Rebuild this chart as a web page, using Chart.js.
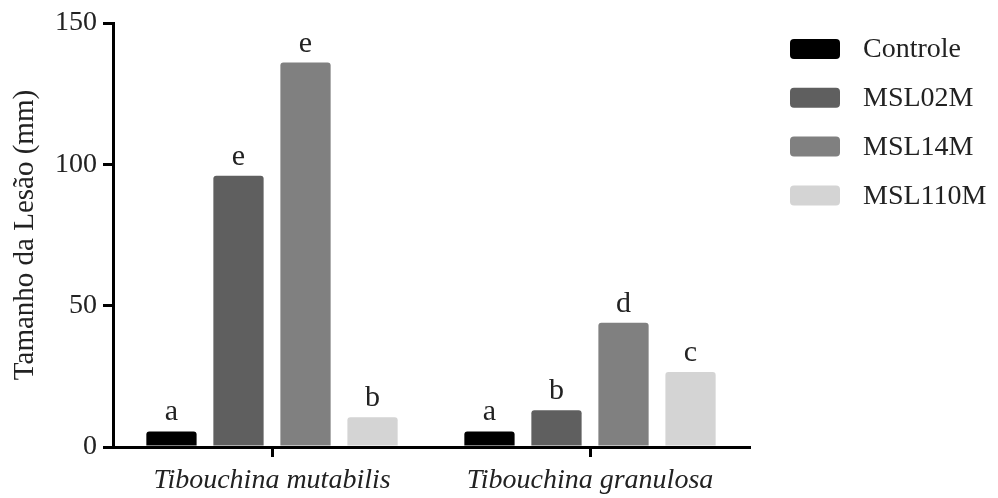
<!DOCTYPE html>
<html>
<head>
<meta charset="utf-8">
<script src="https://cdn.jsdelivr.net/npm/chart.js@4.4.0/dist/chart.umd.min.js"></script>
<style>
  html, body { margin: 0; padding: 0; background: #fff; }
  #wrap { width: 998px; height: 498px; }
</style>
</head>
<body>
<div id="wrap"><canvas id="lesionChart"></canvas></div>
<script>
// data
const species = ['Tibouchina mutabilis', 'Tibouchina granulosa'];
const seriesNames = ['Controle', 'MSL02M', 'MSL14M', 'MSL110M'];
const controle = [5.5, 5.5];
const msl02m = [96, 13];
const msl14m = [136, 44];
const msl110m = [10.5, 26.5];
const letters = [['a', 'a'], ['e', 'b'], ['e', 'd'], ['b', 'c']];
const yTicks = [0, 50, 100, 150];
const barColors = ['#000000', '#5f5f5f', '#808080', '#d4d4d4'];

const serif = '"Liberation Serif", "Times New Roman", serif';
const textColor = '#222';

// letters above each bar
const letterPlugin = {
    id: 'letterPlugin',
    afterDatasetsDraw(chart) {
        const ctx = chart.ctx;
        ctx.save();
        ctx.font = '30px ' + serif;
        ctx.fillStyle = textColor;
        ctx.textAlign = 'center';
        ctx.textBaseline = 'alphabetic';
        chart.data.datasets.forEach((ds, di) => {
            chart.getDatasetMeta(di).data.forEach((bar, i) => {
                ctx.fillText(letters[di][i], bar.x, bar.y - 11);
            });
        });
        ctx.restore();
    }
};

// legend on the right, rounded swatches
const legendPlugin = {
    id: 'sideLegend',
    afterDraw(chart) {
        const ctx = chart.ctx;
        ctx.save();
        ctx.font = '28px ' + serif;
        ctx.textBaseline = 'middle';
        ctx.textAlign = 'left';
        chart.data.datasets.forEach((ds, i) => {
            const cy = 49 + i * 48.8;
            ctx.fillStyle = ds.backgroundColor;
            ctx.beginPath();
            ctx.roundRect(790, cy - 10, 50, 20, 4);
            ctx.fill();
            ctx.fillStyle = textColor;
            ctx.fillText(ds.label, 863, cy + 1);
        });
        ctx.restore();
    }
};

const ctx = document.getElementById('lesionChart').getContext('2d');
new Chart(ctx, {
    type: 'bar',
    data: {
        labels: species,
        datasets: [controle, msl02m, msl14m, msl110m].map((vals, i) => ({
            label: seriesNames[i],
            data: vals,
            backgroundColor: barColors[i],
            borderRadius: 3,
            barPercentage: 0.75,
            categoryPercentage: 0.843
        }))
    },
    options: {
        responsive: true,
        maintainAspectRatio: false,
        animation: false,
        layout: { padding: { top: 23, right: 249, bottom: 0, left: 0 } },
        plugins: {
            legend: { display: false },
            tooltip: { enabled: false }
        },
        scales: {
            x: {
                offset: true,
                afterFit: (scale) => { scale.height = 51; },
                border: { color: '#000', width: 3 },
                grid: {
                    offset: false,
                    drawOnChartArea: false,
                    drawTicks: true,
                    tickLength: 10,
                    color: '#000',
                    lineWidth: 3
                },
                ticks: {
                    color: textColor,
                    padding: 7,
                    font: { family: serif, size: 28, style: 'italic' }
                }
            },
            y: {
                min: 0,
                max: 150,
                afterFit: (scale) => { scale.width = 113; },
                afterBuildTicks: (scale) => { scale.ticks = yTicks.map(v => ({ value: v })); },
                border: { color: '#000', width: 3 },
                grid: {
                    drawOnChartArea: false,
                    drawTicks: true,
                    tickLength: 10,
                    color: '#000',
                    lineWidth: 3
                },
                ticks: {
                    color: textColor,
                    padding: 6,
                    font: { family: serif, size: 28 }
                },
                title: {
                    display: true,
                    text: 'Tamanho da Lesão (mm)',
                    color: textColor,
                    padding: { top: 8, bottom: 0 },
                    font: { family: serif, size: 29 }
                }
            }
        }
    },
    plugins: [letterPlugin, legendPlugin]
});
</script>
</body>
</html>
